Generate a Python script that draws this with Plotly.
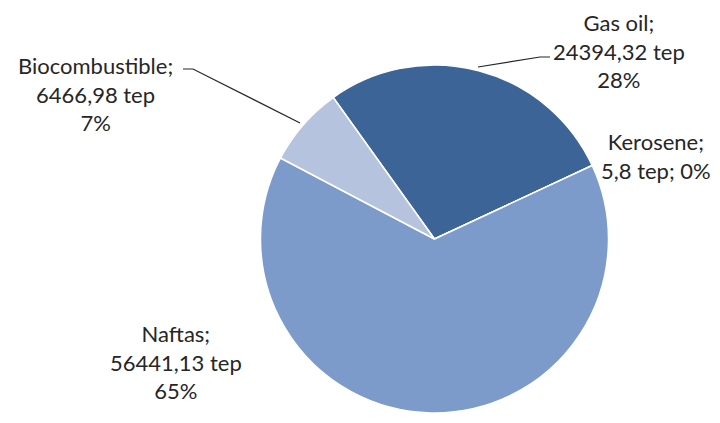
import plotly.graph_objects as go

labels = ["Gas oil", "Kerosene", "Naftas", "Biocombustible"]
values = [24394.32, 5.8, 56441.13, 6466.98]
colors = ["#3C6496", "#2E5182", "#7C9BCA", "#B5C3DF"]

W, H = 720, 423
OFF = 8  # default page body margin
FW, FH = W - OFF, H - OFF
total = sum(values)

def fmt(v):
    return str(v).replace(".", ",")

def pct(v):
    return f"{round(100 * v / total)}%"

texts = {}
for lab, v in zip(labels, values):
    if lab == "Kerosene":
        texts[lab] = f"{lab};<br>{fmt(v)} tep; {pct(v)}"
    else:
        texts[lab] = f"{lab};<br>{fmt(v)} tep<br>{pct(v)}"

# label centres in window pixels (layout)
label_pos = {
    "Gas oil": (619, 51),
    "Kerosene": (656, 156),
    "Naftas": (176, 362),
    "Biocombustible": (95, 94),
}

def px(x):
    return (x - OFF) / FW

def py(y):
    return 1 - (y - OFF) / FH

fig = go.Figure(go.Pie(
    labels=labels,
    values=values,
    sort=False,
    direction="clockwise",
    rotation=-35.6,
    marker=dict(colors=colors, line=dict(color="white", width=1.5)),
    textinfo="none",
    hoverinfo="label+value+percent",
    domain=dict(x=[px(259), px(610)], y=[py(413), py(65)]),
    showlegend=False,
))

font = dict(family="Lato, Carlito, 'Open Sans', sans-serif", size=22, color="#262626")
annotations = []
for lab in labels:
    x, y = label_pos[lab]
    annotations.append(dict(
        x=px(x), y=py(y), xref="paper", yref="paper",
        text=texts[lab], showarrow=False, align="center",
        xanchor="center", yanchor="middle", font=font,
    ))

def path(points):
    return "M " + " L ".join(f"{px(a)} {py(b)}" for a, b in points)

shapes = [
    dict(type="path", xref="paper", yref="paper",
         path=path([(183, 69), (193, 69), (300, 123)]),
         line=dict(color="#262626", width=1.2)),
    dict(type="path", xref="paper", yref="paper",
         path=path([(478, 67), (540, 57), (550, 57)]),
         line=dict(color="#262626", width=1.2)),
]

fig.update_layout(
    width=FW, height=FH,
    margin=dict(l=0, r=0, t=0, b=0),
    paper_bgcolor="white",
    plot_bgcolor="white",
    annotations=annotations,
    shapes=shapes,
)

fig.write_html("out.html")
